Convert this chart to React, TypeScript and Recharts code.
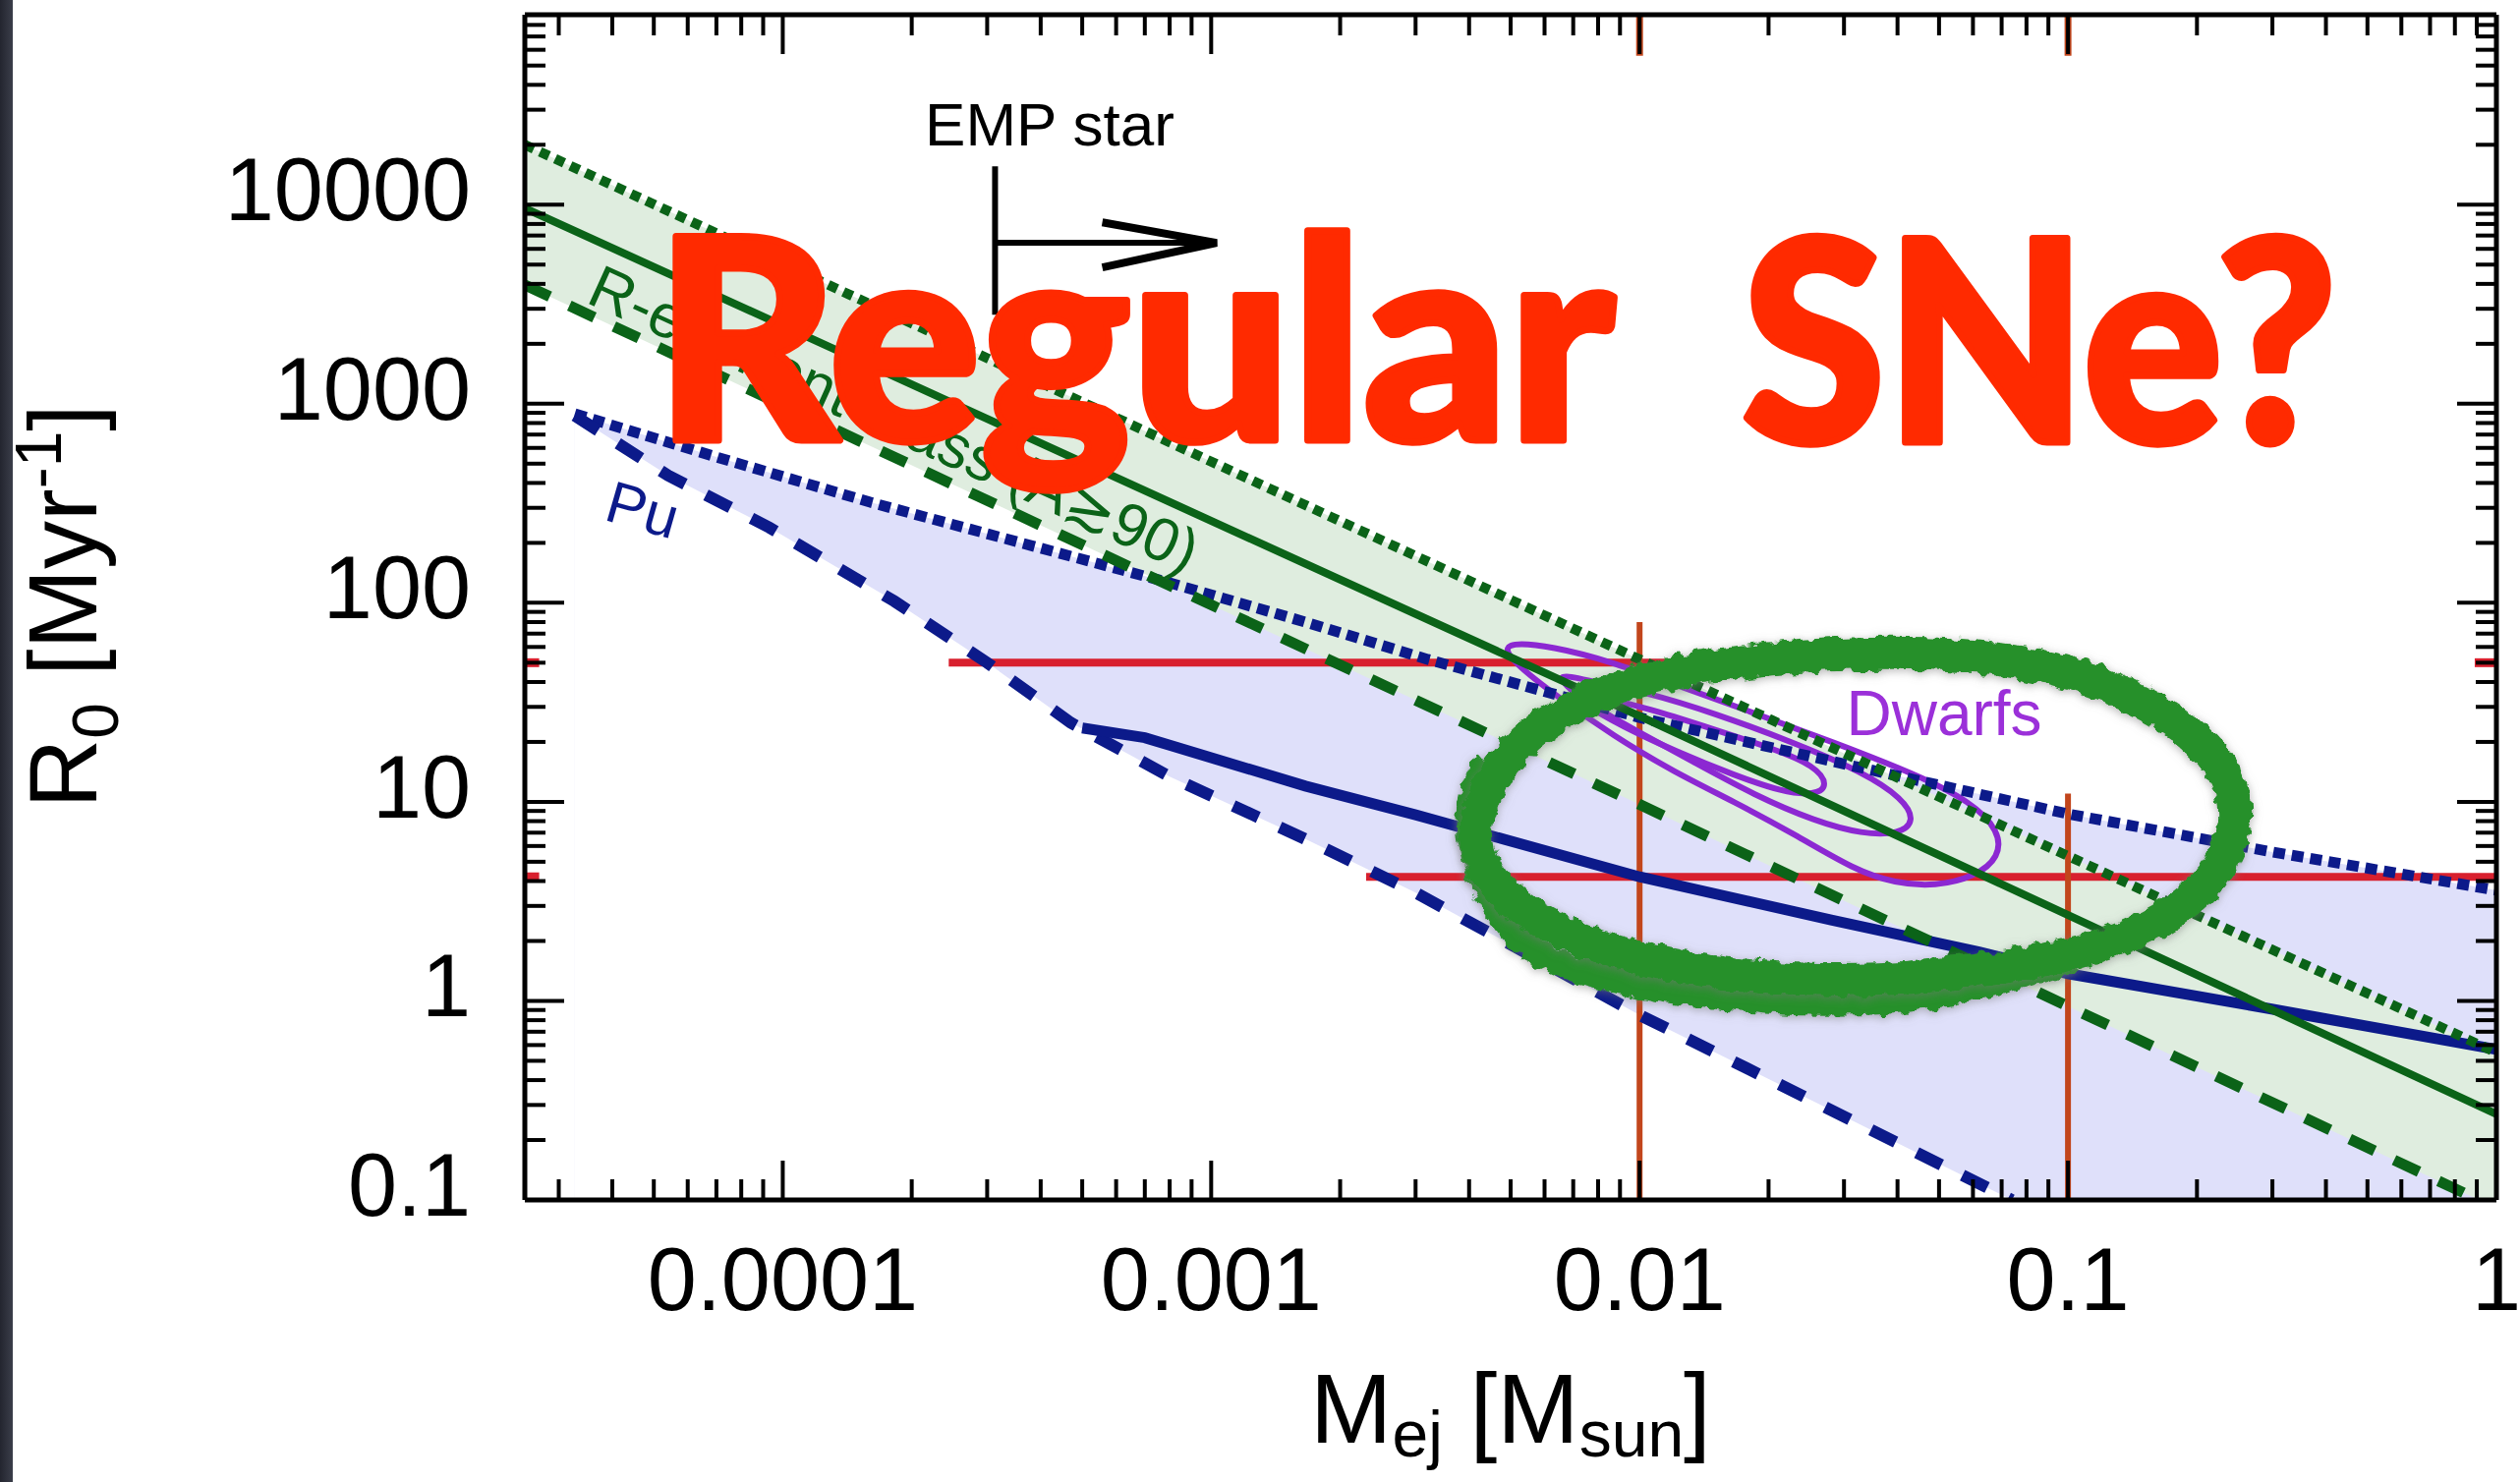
import React from "react"
import { ComposedChart, Line, Area, XAxis, YAxis } from "recharts"

const W = 2564
const H = 1508
const FONT = '"Liberation Sans", Arial, Helvetica, sans-serif'

// axes: ejecta mass [Msun] vs R0 [Myr^-1], both logarithmic
const X_DOMAIN = [2.5e-5, 1]
const Y_DOMAIN = [0.1, 90000]
const xMajor = [1e-4, 1e-3, 1e-2, 1e-1, 1]
const xTickLabels = ["0.0001", "0.001", "0.01", "0.1", "1"]
const xMinor = [
  3e-5, 4e-5, 5e-5, 6e-5, 7e-5, 8e-5, 9e-5,
  2e-4, 3e-4, 4e-4, 5e-4, 6e-4, 7e-4, 8e-4, 9e-4,
  2e-3, 3e-3, 4e-3, 5e-3, 6e-3, 7e-3, 8e-3, 9e-3,
  0.02, 0.03, 0.04, 0.05, 0.06, 0.07, 0.08, 0.09,
  0.2, 0.3, 0.4, 0.5, 0.6, 0.7, 0.8, 0.9,
]
const yMajor = [0.1, 1, 10, 100, 1000, 10000]
const yTickLabels = ["0.1", "1", "10", "100", "1000", "10000"]
const yMinor = [
  0.2, 0.3, 0.4, 0.5, 0.6, 0.7, 0.8, 0.9,
  2, 3, 4, 5, 6, 7, 8, 9,
  20, 30, 40, 50, 60, 70, 80, 90,
  200, 300, 400, 500, 600, 700, 800, 900,
  2000, 3000, 4000, 5000, 6000, 7000, 8000, 9000,
  20000, 30000, 40000, 50000, 60000, 70000, 80000, 90000,
]

// R-element mass (A>=90) band
const rDottedX = [2.5e-5, 1e-2, 1]
const rDottedY = [20000, 52, 0.55]
const rSolidX = [2.5e-5, 1e-2, 1]
const rSolidY = [9600, 27, 0.27]
const rDashedX = [2.5e-5, 1e-2, 0.91]
const rDashedY = [3950, 9.7, 0.1]
const rBandX = [2.5e-5, 1e-2, 0.91, 1]
const rBandLo = [3950, 9.7, 0.1, 0.1]
const rBandHi = [20000, 52, 0.6, 0.55]

// Pu band
const puDottedX = [3.27e-5, 7e-5, 1.6e-4, 3.6e-4, 8e-4, 1.66e-3, 3.2e-3, 1e-2, 3e-2, 0.1, 0.3, 1]
const puDottedY = [890, 540, 320, 200, 126, 80, 52, 26.5, 15.5, 8.7, 5.6, 3.6]
const puDashedX = [3.27e-5, 5.4e-5, 9.3e-5, 1.82e-4, 3e-4, 4.7e-4, 8e-4, 1.66e-3, 3e-3, 1e-2, 0.074]
const puDashedY = [870, 436, 239, 102, 50, 25, 13.4, 6.5, 3.5, 0.85, 0.1]
const puSolidX = [5e-4, 7e-4, 1.66e-3, 3e-3, 1e-2, 2.8e-2, 6.2e-2, 0.1, 0.29, 1]
const puSolidY = [23.5, 21, 12, 8.6, 4.2, 2.55, 1.76, 1.37, 0.92, 0.57]

// dwarf galaxy contours (outer, middle, inner)
const dwarfOuterX = [4.71e-3, 6.3e-3, 8.71e-3, 0.0123, 0.01854, 0.02856, 0.044, 0.0595, 0.0692, 0.0692, 0.0608, 0.049, 0.0395, 0.0318, 0.023, 0.01665, 0.01204, 8.71e-3, 6.43e-3, 5.07e-3]
const dwarfOuterY = [64, 60.5, 50.1, 38.4, 27.9, 19.8, 13.8, 10, 7.14, 5.28, 4.21, 3.76, 3.9, 4.54, 6.88, 10, 14.1, 21.4, 33.7, 50.1]
const dwarfMidX = [6.16e-3, 7.82e-3, 0.01035, 0.01494, 0.023, 0.0332, 0.0412, 0.044, 0.0403, 0.0332, 0.02564, 0.01854, 0.01341, 9.7e-3, 7.33e-3]
const dwarfMidY = [45.5, 39.9, 35.6, 27.9, 19.8, 14.1, 10.4, 8, 6.88, 6.88, 8, 10.8, 15.8, 23.1, 32.4]
const dwarfInnerX = [6.87e-3, 8.71e-3, 0.01081, 0.01494, 0.02066, 0.02564, 0.02765, 0.02564, 0.02158, 0.01665, 0.0123, 9.09e-3, 7.33e-3]
const dwarfInnerY = [37.7, 32.4, 28.9, 23.1, 18.4, 15.2, 12.1, 10.8, 11.2, 13.6, 17.7, 24, 31.2]

// limits: rate levels and mass cuts
const redUpperX = [2.44e-4, 0.088]
const redUpperY = [50, 50]
const redLowerX = [2.3e-3, 1]
const redLowerY = [4.2, 4.2]
const cutX = [0.01, 0.1]
const cutTopY = [80, 11]

// EMP star arrow
const empBarX = [3.13e-4, 3.13e-4]
const empBarY = [15600, 2800]
const empShaftX = [3.13e-4, 1.03e-3]
const empShaftY = [6430, 6430]
const empHeadX = [5.57e-4, 1.03e-3, 5.57e-4]
const empHeadY = [8150, 6430, 4840]

// hand-drawn ring round the dwarf region, plus a second pass along its lower-left side
const ringX = [4.08e-3, 4.99e-3, 8.07e-3, 0.01357, 0.03373, 0.0838, 0.154, 0.229, 0.259, 0.209, 0.133, 0.062, 0.0249, 0.01003, 5.46e-3, 4.15e-3]
const ringY = [8.63, 19.8, 36.5, 49, 58, 53, 32.5, 17, 7.96, 3.37, 1.91, 1.36, 1.21, 1.52, 2.56, 4.73]
const ringPassX = [4.4e-3, 4.0e-3, 4.9e-3, 8.4e-3, 0.0199, 0.0472, 0.1026]
const ringPassY = [16, 7.6, 2.4, 1.3, 1.0, 1.05, 1.6]

const pts = (xs: number[], ys: number[]) => xs.map((x, i) => ({ x, y: ys[i] }))
const rBandRows = rBandX.map((x, i) => ({ x, band: [rBandLo[i], rBandHi[i]] }))

const GREEN = "#0b6318"
const NAVY = "#0c1a8a"
const RED = "#d8202e"
const ORANGE = "#c2461c"
const PURPLE = "#8c28d2"
const RING = "#27902c"

const MAJOR_LEN = 40
const MINOR_LEN = 21

function BottomTick(props: any) {
  const { x, y, payload } = props
  const i = xMajor.indexOf(payload.value)
  const len = i >= 0 ? MAJOR_LEN : MINOR_LEN
  return (
    <g>
      <line x1={x} y1={y} x2={x} y2={y - len} stroke="#000" strokeWidth={4} />
      {i >= 0 && (
        <text x={x} y={y + 112} textAnchor="middle" fontSize={90} fontFamily={FONT} fill="#000">
          {xTickLabels[i]}
        </text>
      )}
    </g>
  )
}

function TopTick(props: any) {
  const { x, y, payload } = props
  const len = xMajor.includes(payload.value) ? MAJOR_LEN : MINOR_LEN
  return <line x1={x} y1={y} x2={x} y2={y + len} stroke="#000" strokeWidth={4} />
}

function LeftTick(props: any) {
  const { x, y, payload } = props
  const i = yMajor.indexOf(payload.value)
  const len = i >= 0 ? MAJOR_LEN : MINOR_LEN
  return (
    <g>
      <line x1={x} y1={y} x2={x + len} y2={y} stroke="#000" strokeWidth={4} />
      {i >= 0 && (
        <text x={x - 55} y={y + 16} textAnchor="end" fontSize={90} fontFamily={FONT} fill="#000">
          {yTickLabels[i]}
        </text>
      )}
    </g>
  )
}

function RightTick(props: any) {
  const { x, y, payload } = props
  const len = yMajor.includes(payload.value) ? MAJOR_LEN : MINOR_LEN
  return <line x1={x} y1={y} x2={x - len} y2={y} stroke="#000" strokeWidth={4} />
}

const lineBase = {
  xAxisId: "x",
  yAxisId: "y",
  dataKey: "y",
  dot: false,
  activeDot: false,
  isAnimationActive: false,
  legendType: "none" as const,
}

export default function App() {
  const frame = { stroke: "#000", strokeWidth: 5 }
  return (
    <div
      style={{
        position: "absolute",
        left: 0,
        top: 0,
        width: W,
        height: H,
        background: "#fff",
        overflow: "hidden",
      }}
    >
      <style>{`.band-r path { mix-blend-mode: multiply; } .brush path { filter: url(#brush); }`}</style>
      <div
        style={{
          position: "absolute",
          left: 0,
          top: 0,
          width: 13,
          height: H,
          background: "linear-gradient(90deg, #23252f, #3b3e4a)",
        }}
      />
      <ComposedChart width={W} height={H} margin={{ top: 14, right: 23, bottom: 286, left: 533 }}>
        <XAxis
          xAxisId="x"
          dataKey="x"
          type="number"
          scale="log"
          domain={X_DOMAIN}
          allowDataOverflow
          ticks={[...xMajor, ...xMinor]}
          interval={0}
          height={1}
          tickSize={0}
          tickMargin={0}
          tickLine={false}
          axisLine={frame}
          tick={BottomTick}
        />
        <XAxis
          xAxisId="xt"
          orientation="top"
          dataKey="x"
          type="number"
          scale="log"
          domain={X_DOMAIN}
          allowDataOverflow
          ticks={[...xMajor, ...xMinor]}
          interval={0}
          height={1}
          tickSize={0}
          tickMargin={0}
          tickLine={false}
          axisLine={frame}
          tick={TopTick}
        />
        <YAxis
          yAxisId="y"
          type="number"
          scale="log"
          domain={Y_DOMAIN}
          allowDataOverflow
          ticks={[...yMajor, ...yMinor]}
          interval={0}
          width={1}
          tickSize={0}
          tickMargin={0}
          tickLine={false}
          axisLine={frame}
          tick={LeftTick}
        />
        <YAxis
          yAxisId="yr"
          orientation="right"
          type="number"
          scale="log"
          domain={Y_DOMAIN}
          allowDataOverflow
          ticks={[...yMajor, ...yMinor]}
          interval={0}
          width={1}
          tickSize={0}
          tickMargin={0}
          tickLine={false}
          axisLine={frame}
          tick={RightTick}
        />

        {/* shaded regions */}
        <Area xAxisId="x" yAxisId="y" data={pts(puDottedX, puDottedY)} dataKey="y" type="linear" baseValue={0.1}
          stroke="none" fill="#dfe0fa" fillOpacity={1} isAnimationActive={false} legendType="none" />
        <Area xAxisId="x" yAxisId="y" data={pts(puDashedX, puDashedY)} dataKey="y" type="linear" baseValue={0.1}
          stroke="none" fill="#ffffff" fillOpacity={1} isAnimationActive={false} legendType="none" />
        <Area className="band-r" xAxisId="x" yAxisId="y" data={rBandRows} dataKey="band" type="linear"
          stroke="none" fill="#dfeddf" fillOpacity={1} isAnimationActive={false} legendType="none" />

        {/* rate levels and mass cuts */}
        <Line {...lineBase} data={pts(redUpperX, redUpperY)} stroke={RED} strokeWidth={8} />
        <Line {...lineBase} data={pts(redLowerX, redLowerY)} stroke={RED} strokeWidth={8} />
        <Line {...lineBase} data={pts([2.5e-5, 2.7e-5], [50, 50])} stroke={RED} strokeWidth={9} />
        <Line {...lineBase} data={pts([2.5e-5, 2.7e-5], [4.2, 4.2])} stroke={RED} strokeWidth={9} />
        <Line {...lineBase} data={pts([0.89, 1], [50, 50])} stroke={RED} strokeWidth={9} />
        {cutX.map((cx, i) => (
          <Line key={`cut${i}`} {...lineBase} data={pts([cx, cx], [cutTopY[i], 0.1])} stroke={ORANGE} strokeWidth={6} />
        ))}
        {cutX.map((cx, i) => (
          <Line key={`cutTop${i}`} {...lineBase} data={pts([cx, cx], [56000, 90000])} stroke={ORANGE} strokeWidth={7} />
        ))}

        {/* dwarf contours */}
        <Line {...lineBase} data={pts(dwarfOuterX, dwarfOuterY)} type="basisClosed" stroke={PURPLE} strokeWidth={6} />
        <Line {...lineBase} data={pts(dwarfMidX, dwarfMidY)} type="basisClosed" stroke={PURPLE} strokeWidth={6} />
        <Line {...lineBase} data={pts(dwarfInnerX, dwarfInnerY)} type="basisClosed" stroke={PURPLE} strokeWidth={6} />

        {/* Pu */}
        <Line {...lineBase} data={pts(puDottedX, puDottedY)} type="linear" stroke={NAVY} strokeWidth={11} strokeDasharray="12 7" />
        <Line {...lineBase} data={pts(puDashedX, puDashedY)} type="linear" stroke={NAVY} strokeWidth={12} strokeDasharray="28 24" />
        <Line {...lineBase} data={pts(puSolidX, puSolidY)} type="linear" stroke={NAVY} strokeWidth={11} />

        {/* R-element mass */}
        <Line {...lineBase} data={pts(rDottedX, rDottedY)} type="linear" stroke={GREEN} strokeWidth={10} strokeDasharray="10 7" />
        <Line {...lineBase} data={pts(rDashedX, rDashedY)} type="linear" stroke={GREEN} strokeWidth={11} strokeDasharray="28 22" />
        <Line {...lineBase} data={pts(rSolidX, rSolidY)} type="linear" stroke={GREEN} strokeWidth={8} />

        {/* EMP star arrow */}
        <Line {...lineBase} data={pts(empBarX, empBarY)} stroke="#000" strokeWidth={6} />
        <Line {...lineBase} data={pts(empShaftX, empShaftY)} stroke="#000" strokeWidth={6} />
        <Line {...lineBase} data={pts(empHeadX, empHeadY)} stroke="#000" strokeWidth={8} strokeLinejoin="miter" />

        {/* ring */}
        <Line {...lineBase} className="brush" data={pts(ringPassX, ringPassY)} type="natural" stroke={RING} strokeWidth={26} />
        <Line {...lineBase} className="brush" data={pts(ringX, ringY)} type="basisClosed" stroke={RING} strokeWidth={34} />
      </ComposedChart>

      <svg
        width={W}
        height={H}
        style={{ position: "absolute", left: 0, top: 0, pointerEvents: "none" }}
      >
        <defs>
          <filter id="brush" x="-15%" y="-15%" width="130%" height="130%">
            <feTurbulence type="fractalNoise" baseFrequency="0.09" numOctaves={2} seed={4} result="noise" />
            <feDisplacementMap in="SourceGraphic" in2="noise" scale={12} xChannelSelector="R" yChannelSelector="G" result="rough" />
            <feDropShadow in="rough" dx={0} dy={2} stdDeviation={5} floodColor="#777" floodOpacity={0.55} />
          </filter>
        </defs>

        <text x={1068} y={148} textAnchor="middle" fontSize={62} fontFamily={FONT} fill="#000">EMP star</text>
        <text x={654} y={519} textAnchor="middle" dominantBaseline="central" fontSize={60} fontFamily={FONT}
          fill={NAVY} transform="rotate(16 654 519)">Pu</text>
        <text x={910} y={426} textAnchor="middle" dominantBaseline="central" fontSize={62} fontFamily={FONT}
          fill={GREEN} transform="rotate(24.3 910 426)">R-element mass (A≳90)</text>
        <text x={1978} y={748} textAnchor="middle" fontSize={64} fontFamily={FONT} fill="#9b30d9">Dwarfs</text>

        {/* axis titles */}
        <text x={98} y={617} textAnchor="middle" fontSize={98} fontFamily={FONT} fill="#000"
          transform="rotate(-90 98 617)">
          R<tspan dy={22} fontSize={66}>0</tspan>
          <tspan dy={-22}> [Myr</tspan>
          <tspan dy={-36} fontSize={66}>-1</tspan>
          <tspan dy={36}>]</tspan>
        </text>
        <text x={1537} y={1468} textAnchor="middle" fontSize={100} fontFamily={FONT} fill="#000">
          M<tspan dy={14} fontSize={66}>ej</tspan>
          <tspan dy={-14}> [M</tspan>
          <tspan dy={14} fontSize={66}>sun</tspan>
          <tspan dy={-14}>]</tspan>
        </text>

        <g fontFamily='Lato, "DejaVu Sans", sans-serif' fontWeight={900} fontSize={286} fill="#ff2a00"
          stroke="#ff2a00" strokeWidth={7} strokeLinejoin="round">
          <text x={666} y={448} textLength={977} lengthAdjust="spacingAndGlyphs">Regular</text>
          <text x={1772} y={450} textLength={606} lengthAdjust="spacingAndGlyphs">SNe?</text>
        </g>
      </svg>
    </div>
  )
}
